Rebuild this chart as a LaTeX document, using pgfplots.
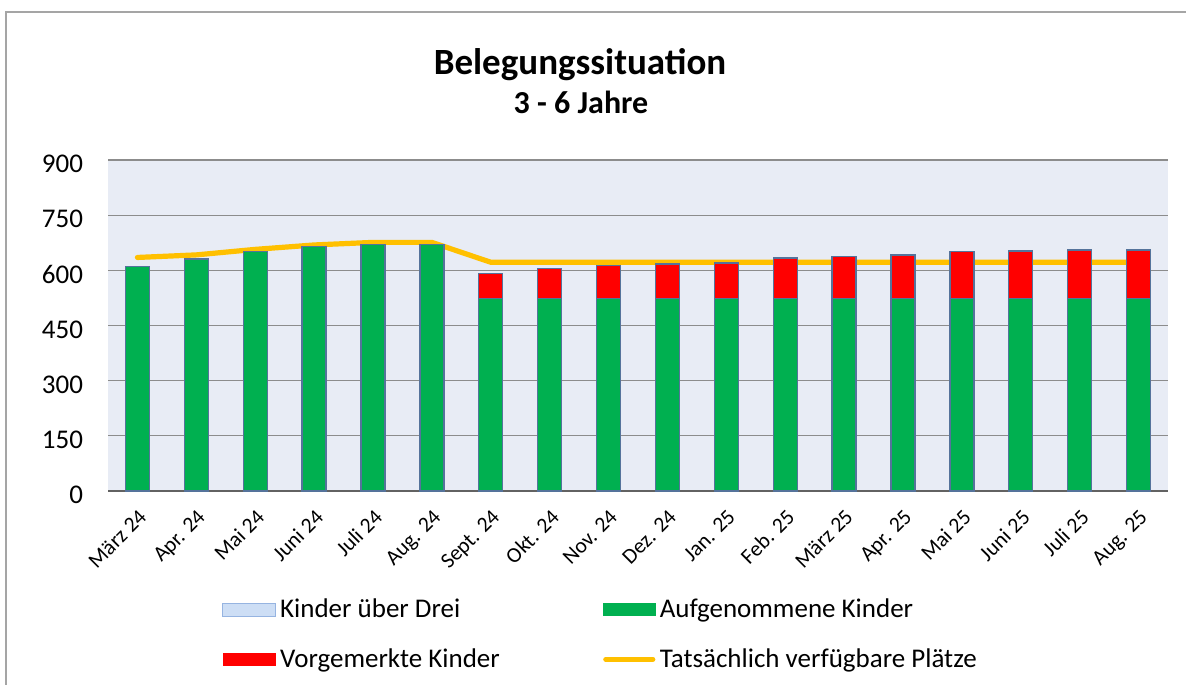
\documentclass[border=0pt]{standalone}
\usepackage{fontspec}
\setmainfont{Carlito}
\usepackage{pgfplots}
\pgfplotsset{compat=1.18}
\definecolor{bg}{RGB}{232,236,245}
\definecolor{grn}{RGB}{0,176,80}
\definecolor{rd}{RGB}{255,0,0}
\definecolor{yl}{RGB}{255,192,0}
\definecolor{edge}{RGB}{85,115,155}
\definecolor{lb}{RGB}{205,222,245}
\definecolor{lbd}{RGB}{150,180,225}
\definecolor{frame}{RGB}{165,165,165}
\definecolor{gridc}{RGB}{140,140,140}
\pgfplotsset{
  barleg/.style={legend image code/.code={\fill[##1,draw=none] (0pt,-3.2pt) rectangle (26.5pt,3.2pt);}},
  lineleg/.style={legend image code/.code={\draw[##1] (1.5pt,0pt) -- (25pt,0pt);}},
}
\begin{document}
\begin{tikzpicture}
\useasboundingbox (0pt,0pt) rectangle (593pt,342pt);
\draw[frame, line width=1pt] (3pt,-2pt) -- (3pt,336pt) -- (596pt,336pt);
\node[anchor=base, font=\fontsize{18.5}{22}\selectfont\bfseries] at (290pt,304.5pt) {Belegungssituation};
\node[anchor=base, font=\fontsize{16}{19}\selectfont\bfseries] at (290.5pt,285pt) {3 - 6 Jahre};
\begin{axis}[
  at={(54pt,96.5pt)}, anchor=south west,
  scale only axis, width=530pt, height=165.5pt,
  xmin=-0.5, xmax=17.5, ymin=0, ymax=900,
  ytick={0,150,300,450,600,750,900},
  xtick={0,...,17},
  xticklabels={März 24,Apr. 24,Mai 24,Juni 24,Juli 24,Aug. 24,Sept. 24,Okt. 24,Nov. 24,Dez. 24,Jan. 25,Feb. 25,März 25,Apr. 25,Mai 25,Juni 25,Juli 25,Aug. 25},
  axis background/.style={fill=bg},
  ymajorgrids, grid style={gridc, line width=0.6pt},
  axis x line*=bottom, axis y line*=left,
  x axis line style={gridc!70!black, line width=0.7pt, -},
  y axis line style={draw=none},
  major tick length=0pt,
  yticklabel style={font=\fontsize{13.5}{16}\selectfont, /pgf/number format/assume math mode=true, xshift=-9pt, yshift=-2pt},
  xticklabel style={font=\fontsize{10.8}{12}\selectfont, /pgf/number format/assume math mode=true, xshift=0pt, yshift=-7pt, rotate=45, anchor=north east, inner sep=1pt},
  ybar stacked, bar width=12pt,
  legend columns=2,
  legend cell align=left,
  legend style={draw=none, fill=none, at={(0.1018,-0.30)}, anchor=north west,
    font=\fontsize{13.5}{16}\selectfont, row sep=10pt,
    /tikz/every even column/.append style={column sep=49.5pt}},
  clip=false,
]
\addlegendimage{legend image code/.code={\fill[lb,draw=lbd,line width=0.4pt] (0pt,-3.2pt) rectangle (26.5pt,3.2pt);}}
\addlegendentry{Kinder über Drei}
\addplot+[ybar stacked, fill=grn, draw=edge, line width=0.7pt, barleg] coordinates {
(0,610) (1,631) (2,652) (3,664) (4,671) (5,671) (6,524) (7,524) (8,524) (9,524) (10,524) (11,524) (12,524) (13,524) (14,524) (15,524) (16,524) (17,524)};
\addlegendentry{Aufgenommene Kinder}
\addplot+[ybar stacked, fill=rd, draw=edge, line width=0.7pt, barleg] coordinates {
(0,0) (1,0) (2,0) (3,0) (4,0) (5,0) (6,68) (7,81) (8,89) (9,93) (10,96) (11,109) (12,113) (13,118) (14,127) (15,129) (16,131) (17,131)};
\addlegendentry{Vorgemerkte Kinder}
\addplot[stack plots=false, sharp plot, yl, line width=2.6pt, line cap=round, line join=round, lineleg] coordinates {
(0,635) (1,642) (2,657) (3,669) (4,676) (5,676) (6,622) (7,622) (8,622) (9,622) (10,622) (11,622) (12,622) (13,622) (14,622) (15,622) (16,622) (17,622)};
\addlegendentry{Tatsächlich verfügbare Plätze}
\end{axis}
\end{tikzpicture}
\end{document}
